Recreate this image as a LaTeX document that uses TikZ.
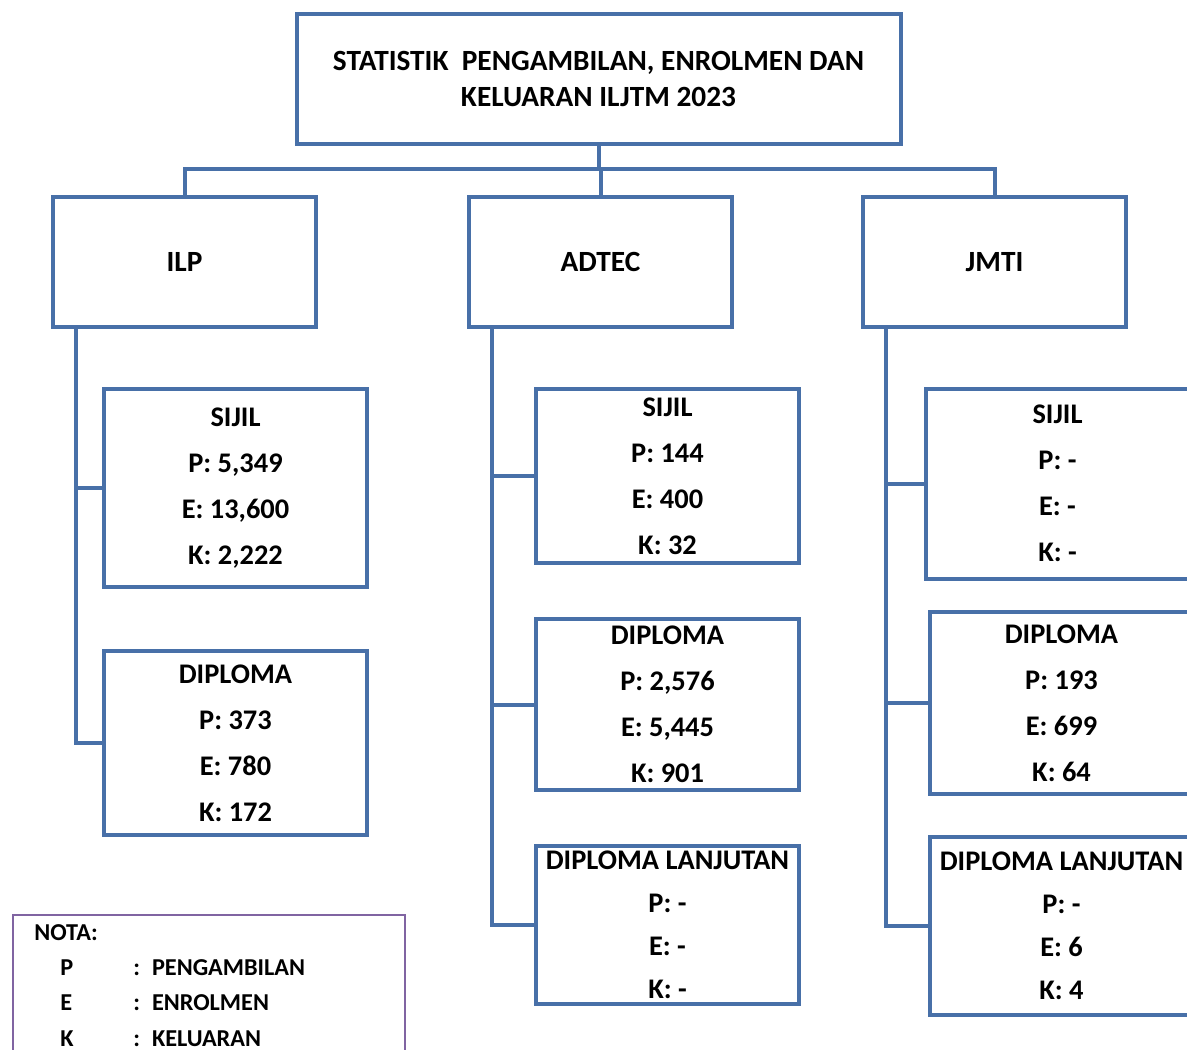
\documentclass[tikz,border=0pt]{standalone}
\usepackage{fontspec}
\setmainfont{Carlito}
\definecolor{chartblue}{RGB}{72,112,168}
\definecolor{notapurple}{RGB}{128,100,162}
\usetikzlibrary{positioning,calc}

\tikzset{
    headbox/.style={draw=chartblue, line width=3pt, fill=white, align=center,
        font=\bfseries\fontsize{22}{27}\selectfont},
    subbox/.style={draw=chartblue, line width=3pt, fill=white, align=center,
        minimum width=197pt, font=\bfseries\fontsize{21.3}{34.5}\selectfont},
    lanjutbox/.style={subbox, font=\bfseries\fontsize{21.3}{32.2}\selectfont},
    link/.style={draw=chartblue, line width=3pt}
}

\begin{document}
\begin{tikzpicture}[x=0.75pt, y=-0.75pt]
    \clip (0,0) rectangle (1187,1049);
    \fill[white] (0,0) rectangle (1187,1049);

    % top of the chart
    \node[headbox, minimum width=453pt, minimum height=97.5pt] (title) at (598.5,79)
        {STATISTIK\ \ PENGAMBILAN, ENROLMEN DAN\\KELUARAN ILJTM 2023};
    \node[headbox, minimum width=197pt, minimum height=97.5pt] (ilp) at (184.5,262) {ILP};
    \node[headbox, minimum width=197pt, minimum height=97.5pt] (adtec) at (600.5,262) {ADTEC};
    \node[headbox, minimum width=197pt, minimum height=97.5pt] (jmti) at (994.5,262) {JMTI};

    \coordinate (bus) at (598.5,169);
    \draw[link] (title.south) -- (title.south |- bus);
    \draw[link] (ilp.north) -- (ilp.north |- bus) -- (jmti.north |- bus) -- (jmti.north);
    \draw[link] (adtec.north) -- (adtec.north |- bus);

    % ILP
    \node[subbox, minimum height=148.5pt] (ilpsijil) at (235.5,488)
        {SIJIL\\P: 5,349\\E: 13,600\\K: 2,222};
    \node[subbox, minimum height=138pt] (ilpdip) at (235.5,743)
        {DIPLOMA\\P: 373\\E: 780\\K: 172};
    \draw[link] ([xshift=18.75pt]ilp.south west) |- (ilpsijil.west);
    \draw[link] ([xshift=18.75pt]ilp.south west) |- (ilpdip.west);

    % ADTEC
    \node[subbox, minimum height=130pt] (adsijil) at (667.5,476)
        {SIJIL\\P: 144\\E: 400\\K: 32};
    \node[subbox, minimum height=128pt] (addip) at (667.5,704.5)
        {DIPLOMA\\P: 2,576\\E: 5,445\\K: 901};
    \node[lanjutbox, minimum height=119pt] (addl) at (667.5,925)
        {DIPLOMA LANJUTAN\\P: -\\E: -\\K: -};
    \draw[link] ([xshift=18.75pt]adtec.south west) |- (adsijil.west);
    \draw[link] ([xshift=18.75pt]adtec.south west) |- (addip.west);
    \draw[link] ([xshift=18.75pt]adtec.south west) |- (addl.west);

    % JMTI
    \node[subbox, minimum height=142.5pt] (jmsijil) at (1057.5,483.5)
        {SIJIL\\P: -\\E: -\\K: -};
    \node[subbox, minimum height=136.5pt] (jmdip) at (1061.5,703)
        {DIPLOMA\\P: 193\\E: 699\\K: 64};
    \node[lanjutbox, minimum height=133pt] (jmdl) at (1061.5,926)
        {DIPLOMA LANJUTAN\\P: -\\E: 6\\K: 4};
    \draw[link] ([xshift=18.75pt]jmti.south west) |- (jmsijil.west);
    \draw[link] ([xshift=18.75pt]jmti.south west) |- (jmdip.west);
    \draw[link] ([xshift=18.75pt]jmti.south west) |- (jmdl.west);

    % legend
    \node[draw=notapurple, line width=1.5pt, anchor=north west, minimum width=294pt,
          inner xsep=15pt, inner ysep=7pt, text width=262pt,
          align=left, font=\bfseries\fontsize{18.2}{26.5}\selectfont] (nota) at (12,914)
        {NOTA:\\
         \hspace*{19.5pt}\makebox[54.75pt][l]{P}:\hspace{9pt}PENGAMBILAN\\
         \hspace*{19.5pt}\makebox[54.75pt][l]{E}:\hspace{9pt}ENROLMEN\\
         \hspace*{19.5pt}\makebox[54.75pt][l]{K}:\hspace{9pt}KELUARAN};
\end{tikzpicture}
\end{document}
